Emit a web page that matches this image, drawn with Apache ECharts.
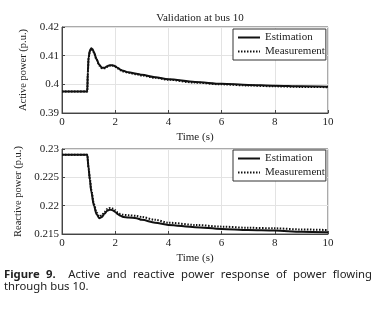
<!DOCTYPE html>
<html>
<head>
<meta charset="utf-8">
<script src="https://cdn.jsdelivr.net/npm/echarts@6/dist/echarts.min.js"></script>
<style>
  html, body { margin: 0; padding: 0; background: #fff; }
  #chart { position: absolute; left: 0; top: 0; width: 377px; height: 316px; }
  #caption {
    position: absolute; left: 4px; top: 268px; width: 368px;
    font-family: "Noto Sans", "Open Sans", sans-serif; font-size: 11.3px;
    line-height: 12px; color: #222;
  }
  #caption .l1 { text-align: justify; text-align-last: justify; }
</style>
</head>
<body>
<div id="chart"></div>
<div id="caption">
  <div class="l1"><b>Figure 9.</b>&nbsp; Active and reactive power response of power flowing</div>
  <div>through bus 10.</div>
</div>
<script>
// 有功功率
const activeTime = [0, 0.95, 0.97, 1.0, 1.05, 1.1, 1.15, 1.2, 1.3, 1.4, 1.5, 1.6, 1.7, 1.8, 1.9, 2.0, 2.1, 2.2, 2.3, 2.5, 2.8, 3.0, 3.5, 4, 5, 6, 7, 8, 9, 10]
const activeEst = [0.3975, 0.3975, 0.4040, 0.4095, 0.4118, 0.4126, 0.4122, 0.4112, 0.4088, 0.4068, 0.4058, 0.4058, 0.4063, 0.4067, 0.4067, 0.4063, 0.4057, 0.4051, 0.4047, 0.4042, 0.4037, 0.4033, 0.4025, 0.4018, 0.4008, 0.4002, 0.3998, 0.3995, 0.3993, 0.3992]
const activeMeas = [0.3975, 0.3975, 0.4038, 0.4093, 0.4116, 0.4124, 0.4120, 0.4110, 0.4086, 0.4066, 0.4056, 0.4056, 0.4061, 0.4065, 0.4065, 0.4061, 0.4055, 0.4049, 0.4045, 0.4040, 0.4035, 0.4031, 0.4023, 0.4016, 0.4006, 0.4000, 0.3996, 0.3993, 0.3991, 0.3990]

// 无功功率
const reactiveTime = [0, 0.95, 1.0, 1.05, 1.1, 1.2, 1.3, 1.4, 1.5, 1.6, 1.7, 1.8, 1.9, 2.0, 2.1, 2.2, 2.3, 2.5, 2.8, 3.0, 3.5, 4, 5, 6, 7, 8, 9, 10]
const reactiveEst = [0.229, 0.229, 0.2265, 0.2245, 0.2225, 0.2200, 0.2185, 0.2178, 0.2180, 0.2186, 0.2191, 0.2193, 0.2192, 0.2189, 0.2185, 0.2182, 0.2180, 0.2179, 0.2178, 0.2175, 0.2170, 0.2166, 0.2162, 0.2159, 0.2157, 0.2156, 0.2154, 0.2153]
const reactiveMeas = [0.229, 0.229, 0.2266, 0.2247, 0.2228, 0.2203, 0.2188, 0.2181, 0.2183, 0.2189, 0.2194, 0.2196, 0.2195, 0.2192, 0.2188, 0.2185, 0.2184, 0.2183, 0.2182, 0.2180, 0.2175, 0.2170, 0.2166, 0.2163, 0.2161, 0.2160, 0.2158, 0.2157]

const serif = '"Liberation Serif", "DejaVu Serif", serif'
const pair = (t, v) => t.map((x, i) => [x, v[i]])

const xAxisFor = (gridIndex) => ({
  type: 'value', gridIndex, min: 0, max: 10, interval: 2,
  name: 'Time (s)', nameLocation: 'middle', nameGap: 19,
  nameTextStyle: { fontFamily: serif, fontSize: 11, color: '#222' },
  axisLine: { show: true, lineStyle: { color: '#444' } },
  axisTick: { inside: true, length: 3, lineStyle: { color: '#444' } },
  axisLabel: { fontFamily: serif, fontSize: 11, color: '#222', margin: 4 },
  splitLine: { lineStyle: { color: '#e3e3e3' } }
})

const yAxisFor = (gridIndex, name, gap, min, max, interval) => ({
  type: 'value', gridIndex, min, max, interval,
  name, nameLocation: 'middle', nameGap: gap,
  nameTextStyle: { fontFamily: serif, fontSize: 10.5, color: '#222' },
  axisLine: { show: true, lineStyle: { color: '#444' } },
  axisTick: { inside: true, length: 3, lineStyle: { color: '#444' } },
  axisLabel: { fontFamily: serif, fontSize: 11, color: '#222', margin: 3 },
  splitLine: { lineStyle: { color: '#e3e3e3' } }
})

const legendAt = (top) => ({
  orient: 'vertical', left: 233, top,
  data: ['Estimation', 'Measurement'],
  itemWidth: 22, itemHeight: 8, itemGap: 3, itemStyle: { opacity: 0 },
  padding: [3, 1, 3, 4],
  borderColor: '#333', borderWidth: 1, backgroundColor: '#fff',
  textStyle: { fontFamily: serif, fontSize: 11, color: '#222' }
})

const lineSeries = (name, idx, data, dashed) => ({
  name, type: 'line', xAxisIndex: idx, yAxisIndex: idx,
  data, symbol: 'none', smooth: 0.3, smoothMonotone: 'x',
  lineStyle: dashed
    ? { color: '#111', width: 2, type: [1.5, 1.5] }
    : { color: '#111', width: 2 },
  itemStyle: { color: '#111' },
  z: dashed ? 3 : 2
})

const chart = echarts.init(document.getElementById('chart'))
chart.setOption({
  animation: false,
  title: {
    text: 'Validation at bus 10', left: 195, top: 8, textAlign: 'center',
    textStyle: { fontFamily: serif, fontSize: 11, fontWeight: 'normal', color: '#222' }
  },
  legend: [legendAt(29), legendAt(150)],
  grid: [
    { left: 62, right: 49, top: 27, height: 86, show: true, borderColor: '#555', borderWidth: 1 },
    { left: 62, right: 49, top: 149, height: 85, show: true, borderColor: '#555', borderWidth: 1 }
  ],
  xAxis: [xAxisFor(0), xAxisFor(1)],
  yAxis: [
    yAxisFor(0, 'Active power (p.u.)', 23, 0.39, 0.42, 0.01),
    yAxisFor(1, 'Reactive power (p.u.)', 28, 0.215, 0.23, 0.005)
  ],
  series: [
    lineSeries('Estimation', 0, pair(activeTime, activeEst), false),
    lineSeries('Measurement', 0, pair(activeTime, activeMeas), true),
    lineSeries('Estimation', 1, pair(reactiveTime, reactiveEst), false),
    lineSeries('Measurement', 1, pair(reactiveTime, reactiveMeas), true)
  ]
})
</script>
</body>
</html>
